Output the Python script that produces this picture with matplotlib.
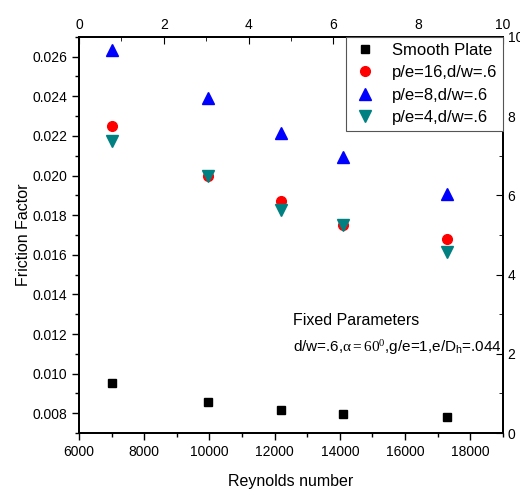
import numpy as np
import matplotlib
matplotlib.use('Agg')
import matplotlib.pyplot as plt
from matplotlib.ticker import MultipleLocator

plt.rcParams['font.family'] = ['Liberation Sans', 'DejaVu Sans']
plt.rcParams['mathtext.fontset'] = 'custom'
plt.rcParams['mathtext.rm'] = 'Liberation Serif'
plt.rcParams['mathtext.it'] = 'Liberation Serif:italic'
plt.rcParams['mathtext.sf'] = 'Liberation Sans'

# Reynolds numbers of the test runs
reynolds = [7000, 9950, 12200, 14100, 17300]

# friction factor for each configuration
f_smooth = [0.00955, 0.00859, 0.00815, 0.00794, 0.00780]
f_pe16 = [0.02251, 0.02000, 0.01872, 0.01751, 0.01681]
f_pe8 = [0.02635, 0.02389, 0.02217, 0.02093, 0.01907]
f_pe4 = [0.02172, 0.01995, 0.01826, 0.01750, 0.01614]

labels = ['Smooth Plate', 'p/e=16,d/w=.6', 'p/e=8,d/w=.6', 'p/e=4,d/w=.6']

fig = plt.figure(figsize=(5.2, 4.91), dpi=100)
ax = fig.add_axes([0.152, 0.118, 0.815, 0.807])

h1, = ax.plot(reynolds, f_smooth, 's', color='black', ms=6, label=labels[0], linestyle='none')
h2, = ax.plot(reynolds, f_pe16, 'o', color='#ff0000', ms=7, label=labels[1], linestyle='none')
h3, = ax.plot(reynolds, f_pe8, '^', color='#0000ff', ms=8, label=labels[2], linestyle='none')
h4, = ax.plot(reynolds, f_pe4, 'v', color='#008080', ms=8, label=labels[3], linestyle='none')

ax.set_xlim(6000, 19000)
ax.set_ylim(0.007, 0.027)
ax.xaxis.set_major_locator(MultipleLocator(2000))
ax.xaxis.set_minor_locator(MultipleLocator(1000))
ax.yaxis.set_major_locator(MultipleLocator(0.002))
ax.yaxis.set_minor_locator(MultipleLocator(0.001))
ax.yaxis.set_major_formatter(plt.FormatStrFormatter('%.3f'))
ax.tick_params(which='both', direction='out', labelsize=10, width=1)
ax.tick_params(which='major', length=5)
ax.tick_params(which='minor', length=3)
ax.tick_params(top=False, right=False)

ax.set_xlabel('Reynolds number', fontsize=11.5, labelpad=11)
ax.set_ylabel('Friction Factor', fontsize=11.5, labelpad=1)

# extra scales on the top and right
axt = ax.twiny()
axt.set_xlim(0, 10)
axt.xaxis.set_major_locator(MultipleLocator(2))
axt.xaxis.set_minor_locator(MultipleLocator(1))
axt.tick_params(which='both', direction='in', labelsize=10)
axt.tick_params(which='major', length=5)
axt.tick_params(which='minor', length=3)

axr = ax.twinx()
axr.set_ylim(0, 10)
axr.yaxis.set_major_locator(MultipleLocator(2))
axr.yaxis.set_minor_locator(MultipleLocator(1))
axr.tick_params(which='both', direction='in', labelsize=10)
axr.tick_params(which='major', length=5)
axr.tick_params(which='minor', length=3)

for a in (ax, axt, axr):
    for s in a.spines.values():
        s.set_linewidth(1.2)

leg = axr.legend([h1, h2, h3, h4], labels, loc='upper right', fontsize=12,
                 frameon=True, fancybox=False, framealpha=1,
                 borderaxespad=0, handletextpad=0.8, labelspacing=0.45,
                 borderpad=0.35, handlelength=1.6)
leg.get_frame().set_edgecolor('#555555')
leg.get_frame().set_linewidth(0.8)

ax.text(0.505, 0.283, 'Fixed Parameters', transform=ax.transAxes,
        fontsize=11.5, va='center', ha='left')
ax.text(0.505, 0.217, r'd/w=.6,$\mathrm{\alpha=60^0}$,g/e=1,e/D$_\mathsf{h}$=.044',
        transform=ax.transAxes, fontsize=11, va='center', ha='left')

fig.savefig('out.png', dpi=100)
